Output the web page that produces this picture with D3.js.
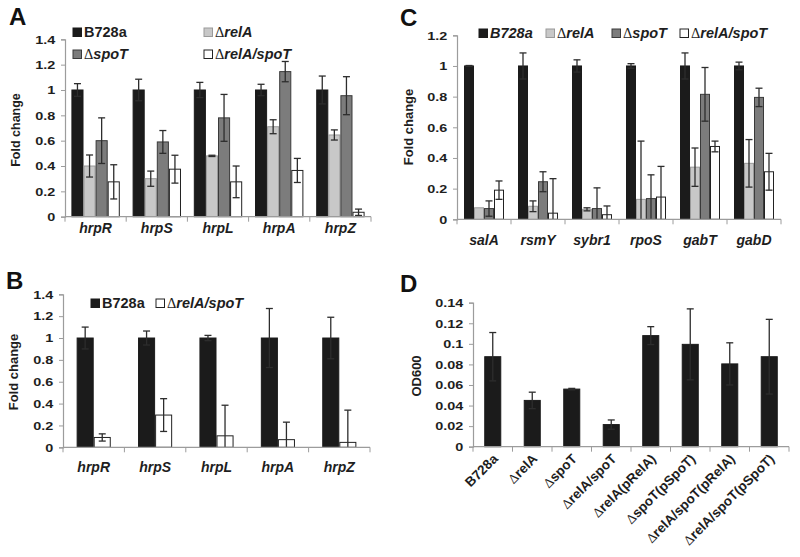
<!DOCTYPE html>
<html><head><meta charset="utf-8">
<script src="https://cdn.jsdelivr.net/npm/d3@7"></script>
<style>
body{margin:0;background:#fff;}
svg{display:block;font-family:"Liberation Sans",Arial,sans-serif;}
</style></head>
<body>
<svg id="chart" width="800" height="557"></svg>
<script>
// ---------- DATA ----------
const aGenes = ["hrpR","hrpS","hrpL","hrpA","hrpZ"];
const aB728a = [1,1,1,1,1];
const aB728aErr = [0.05,0.085,0.06,0.045,0.11];
const aRelA = [0.40,0.30,0.48,0.71,0.645];
const aRelAErr = [0.087,0.06,0.005,0.055,0.04];
const aSpoT = [0.60,0.59,0.78,1.145,0.955];
const aSpoTErr = [0.18,0.09,0.185,0.08,0.15];
const aRelASpoT = [0.275,0.375,0.275,0.365,0.035];
const aRelASpoTErr = [0.135,0.11,0.125,0.095,0.025];
const aTicks = [0,0.2,0.4,0.6,0.8,1,1.2,1.4];

const bGenes = ["hrpR","hrpS","hrpL","hrpA","hrpZ"];
const bB728a = [1,1,1,1,1];
const bB728aErr = [0.10,0.064,0.024,0.27,0.19];
const bRelASpoT = [0.09,0.295,0.105,0.07,0.045];
const bRelASpoTErr = [0.033,0.15,0.28,0.16,0.295];
const bTicks = [0,0.2,0.4,0.6,0.8,1,1.2,1.4];

const cGenes = ["salA","rsmY","sybr1","rpoS","gabT","gabD"];
const cB728a = [1,1,1,1,1,1];
const cB728aErr = [0.003,0.085,0.04,0.015,0.085,0.025];
const cRelA = [0.075,0.085,0.065,0.13,0.34,0.365];
const cRelAErr = [0,0.035,0.01,0.38,0.125,0.155];
const cSpoT = [0.07,0.245,0.07,0.135,0.815,0.795];
const cSpoTErr = [0.05,0.065,0.135,0.155,0.175,0.06];
const cRelASpoT = [0.19,0.04,0.03,0.145,0.475,0.31];
const cRelASpoTErr = [0.06,0.225,0.057,0.2,0.035,0.12];
const cTicks = [0,0.2,0.4,0.6,0.8,1,1.2];

const dStrains = ["B728a","ΔrelA","ΔspoT","ΔrelA/spoT","ΔrelA(pRelA)","ΔspoT(pSpoT)","ΔrelA/spoT(pRelA)","ΔrelA/spoT(pSpoT)"];
const dOD600 = [0.0875,0.045,0.056,0.0215,0.108,0.0995,0.0805,0.0875];
const dOD600Err = [0.0235,0.008,0.0007,0.0045,0.0087,0.0345,0.0205,0.0363];
const dTicks = [0,0.02,0.04,0.06,0.08,0.1,0.12,0.14];

// ---------- STYLE ----------
const COLORS = {b728a:"#1b1b1b", relA:"#c8c8c8", spoT:"#7c7c7c", relAspoT:"#ffffff"};
const STROKES = {b728a:"#1b1b1b", relA:"#9a9a9a", spoT:"#3a3a3a", relAspoT:"#222"};
const AXIS = "#9c9c9c";
const svg = d3.select("#chart");

function richText(sel, parts){
  parts.forEach(([t,k])=>{
    const ts = sel.append("tspan").text(t);
    if(k==="d"){ ts.attr("font-family","'Liberation Serif','DejaVu Serif',serif").attr("font-weight","normal"); }
    else if(k==="i"){ ts.attr("font-weight","bold").attr("font-style","italic"); }
    else { ts.attr("font-weight","bold"); }
  });
}

function panel(cfg){
  const g = svg.append("g");
  const x = d3.scaleBand().domain(cfg.cats).range([cfg.x0,cfg.x1]).paddingInner(0).paddingOuter(0);
  const y = d3.scaleLinear().domain([0,cfg.ymax]).range([cfg.y0,cfg.yTop]);
  const xs = d3.scaleBand().domain(cfg.series.map(s=>s.key)).range([0,x.bandwidth()])
     .paddingInner(0).paddingOuter(cfg.outerPad);

  // y axis
  const ya = g.append("g").attr("transform",`translate(${cfg.x0},0)`)
    .call(d3.axisLeft(y).tickValues(cfg.ticks).tickSize(4).tickPadding(4)
      .tickFormat(d=>d3.format("~g")(+d.toFixed(3))));
  ya.select(".domain").attr("stroke",AXIS).attr("stroke-width",1.2);
  ya.selectAll(".tick line").attr("stroke",AXIS);
  ya.selectAll(".tick text").attr("font-size",11.8).attr("font-weight","bold")
    .attr("fill","#1e1e1e").attr("font-family","'Liberation Sans',Arial,sans-serif")
    .attr("transform","scale(1.22,1)");

  // bars
  cfg.series.forEach(s=>{
    g.append("g").selectAll("rect").data(cfg.cats).join("rect")
      .attr("x",c=>x(c)+xs(s.key)+0.5)
      .attr("width",xs.bandwidth()-1)
      .attr("y",(c,i)=>y(s.values[i]))
      .attr("height",(c,i)=>y(0)-y(s.values[i]))
      .attr("fill",COLORS[s.key]).attr("stroke",STROKES[s.key]).attr("stroke-width",1);
  });
  // error bars
  cfg.series.forEach(s=>{
    const eg = g.append("g").attr("stroke","#2d2d2d").attr("stroke-width",1.3);
    cfg.cats.forEach((c,i)=>{
      const e = s.errs[i]; if(!e) return;
      const cx = x(c)+xs(s.key)+xs.bandwidth()/2;
      const hi = y(s.values[i]+e), lo = y(Math.max(0,s.values[i]-e));
      eg.append("line").attr("x1",cx).attr("x2",cx).attr("y1",hi).attr("y2",lo);
      eg.append("line").attr("x1",cx-3.5).attr("x2",cx+3.5).attr("y1",hi).attr("y2",hi);
      if(s.values[i]-e>0) eg.append("line").attr("x1",cx-3.5).attr("x2",cx+3.5).attr("y1",lo).attr("y2",lo);
    });
  });

  // x axis
  g.append("line").attr("x1",cfg.x0).attr("x2",cfg.x1).attr("y1",cfg.y0).attr("y2",cfg.y0)
    .attr("stroke",AXIS).attr("stroke-width",1.2);
  const bounds = cfg.cats.map(c=>x(c)).concat([x(cfg.cats[cfg.cats.length-1])+x.step()]);
  g.append("g").selectAll("line").data(bounds).join("line")
    .attr("x1",d=>d).attr("x2",d=>d).attr("y1",cfg.y0).attr("y2",cfg.y0+5).attr("stroke",AXIS);

  // category labels
  if(cfg.rotate){
    cfg.cats.forEach(c=>{
      const cx = x(c)+x.bandwidth()/2;
      const t = g.append("text").attr("text-anchor","end").attr("font-size",13.5)
        .attr("fill","#1e1e1e")
        .attr("transform",`translate(${cx+6},${cfg.y0+13}) rotate(-45)`);
      const parts = c.startsWith("Δ") ? [["Δ","d"],[c.slice(1),"b"]] : [[c,"b"]];
      richText(t,parts);
    });
  } else {
    g.append("g").selectAll("text").data(cfg.cats).join("text")
      .attr("x",c=>x(c)+x.bandwidth()/2).attr("y",cfg.y0+cfg.labOff)
      .attr("text-anchor","middle").attr("font-size",14).attr("font-weight","bold")
      .attr("font-style","italic").attr("fill","#1e1e1e").text(c=>c);
  }

  // y title
  g.append("text").attr("transform",`translate(${cfg.ytx},${cfg.yty}) rotate(-90)`)
    .attr("text-anchor","middle").attr("font-size",cfg.ytFont||12.5).attr("font-weight","bold")
    .attr("fill","#1e1e1e").text(cfg.ytitle);

  // panel letter
  svg.append("text").attr("x",cfg.lx).attr("y",cfg.ly).attr("font-size",24)
    .attr("font-weight","bold").attr("fill","#111").text(cfg.letter);

  // legend
  (cfg.legend||[]).forEach(L=>{
    svg.append("rect").attr("x",L.x).attr("y",L.y-9).attr("width",8.5).attr("height",8.5)
      .attr("fill",COLORS[L.key]).attr("stroke",STROKES[L.key]).attr("stroke-width",1);
    const t = svg.append("text").attr("x",L.x+11).attr("y",L.y).attr("font-size",14.5).attr("fill","#1e1e1e");
    richText(t,L.parts);
  });
}

// Panel A
panel({
  letter:"A", lx:9, ly:25,
  cats:aGenes, x0:65, x1:371, y0:216.7, yTop:39.3, ymax:1.4, ticks:aTicks, outerPad:0.53,
  labOff:16, ytitle:"Fold change", ytx:20, yty:130,
  series:[
    {key:"b728a",values:aB728a,errs:aB728aErr},
    {key:"relA",values:aRelA,errs:aRelAErr},
    {key:"spoT",values:aSpoT,errs:aSpoTErr},
    {key:"relAspoT",values:aRelASpoT,errs:aRelASpoTErr}],
  legend:[
    {key:"b728a",x:73,y:37,parts:[["B728a","b"]]},
    {key:"relA",x:204,y:37,parts:[["Δ","d"],["relA","i"]]},
    {key:"spoT",x:73,y:59,parts:[["Δ","d"],["spoT","i"]]},
    {key:"relAspoT",x:204,y:59,parts:[["Δ","d"],["relA/spoT","i"]]}]
});

// Panel B
panel({
  letter:"B", lx:6, ly:289,
  cats:bGenes, x0:63, x1:370, y0:447.3, yTop:294.3, ymax:1.4, ticks:bTicks, outerPad:0.8,
  labOff:25, ytitle:"Fold change", ytx:18, yty:372, ytFont:13,
  series:[
    {key:"b728a",values:bB728a,errs:bB728aErr},
    {key:"relAspoT",values:bRelASpoT,errs:bRelASpoTErr}],
  legend:[
    {key:"b728a",x:91,y:308,parts:[["B728a","b"]]},
    {key:"relAspoT",x:156,y:308,parts:[["Δ","d"],["relA/spoT","i"]]}]
});

// Panel C
panel({
  letter:"C", lx:400, ly:26,
  cats:cGenes, x0:457, x1:781, y0:219.3, yTop:35.3, ymax:1.2, ticks:cTicks, outerPad:0.7,
  labOff:26, ytitle:"Fold change", ytx:413, yty:127, ytFont:13,
  series:[
    {key:"b728a",values:cB728a,errs:cB728aErr},
    {key:"relA",values:cRelA,errs:cRelAErr},
    {key:"spoT",values:cSpoT,errs:cSpoTErr},
    {key:"relAspoT",values:cRelASpoT,errs:cRelASpoTErr}],
  legend:[
    {key:"b728a",x:479,y:38,parts:[["B728a","i"]]},
    {key:"relA",x:546,y:38,parts:[["Δ","d"],["relA","i"]]},
    {key:"spoT",x:612,y:38,parts:[["Δ","d"],["spoT","i"]]},
    {key:"relAspoT",x:680,y:38,parts:[["Δ","d"],["relA/spoT","i"]]}]
});

// Panel D
panel({
  letter:"D", lx:400, ly:292,
  cats:dStrains, x0:473, x1:789, y0:446.7, yTop:302.7, ymax:0.14, ticks:dTicks, outerPad:0.66,
  rotate:true, ytitle:"OD600", ytx:421, yty:376, ytFont:13,
  series:[{key:"b728a",values:dOD600,errs:dOD600Err}]
});
</script>
</body></html>
